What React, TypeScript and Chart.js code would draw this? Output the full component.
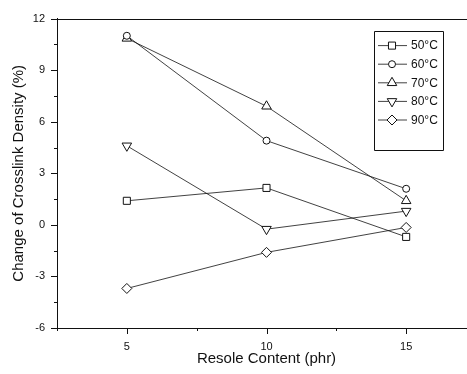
import React, { useEffect, useRef } from 'react';
import { Chart, registerables } from 'chart.js';
import { drawPoint } from 'chart.js/helpers';

Chart.register(...registerables);

const resoleContent = [5, 10, 15];
const seriesLabels = ['50°C', '60°C', '70°C', '80°C', '90°C'];
const s50 = [1.4, 2.15, -0.7];
const s60 = [11.0, 4.9, 2.1];
const s70 = [10.85, 6.9, 1.4];
const s80 = [4.6, -0.25, 0.8];
const s90 = [-3.7, -1.6, -0.15];
const seriesValues = [s50, s60, s70, s80, s90];

const pointStyles = ['rect', 'circle', 'triangle', 'triangle', 'rectRot'];
const pointRotations = [0, 0, 0, 180, 0];
const pointRadii = [5, 3.5, 5.5, 5.5, 5];

const yMin = -6;
const yMax = 12;
const yStep = 1.5;
const yMajor = 3;
const xMin = 2.5;
const xMax = 17.5;
const xStep = 2.5;
const xMajor = 5;

const FONT = "'Liberation Sans', Arial, Helvetica, sans-serif";
const INK = '#111';

const framePlugin = {
  id: 'frame',
  afterDraw(chart: any) {
    const { ctx, chartArea, scales } = chart;
    const { left, right, top, bottom } = chartArea;
    ctx.save();
    ctx.strokeStyle = INK;
    ctx.lineWidth = 1;
    ctx.beginPath();
    ctx.moveTo(left, Math.round(top) + 0.5);
    ctx.lineTo(right, Math.round(top) + 0.5);
    const ys = scales.y;
    ys.ticks.forEach((t: any) => {
      const p = Math.round(ys.getPixelForValue(t.value)) + 0.5;
      const major = Math.abs(t.value % yMajor) < 1e-6;
      ctx.moveTo(left - (major ? 6 : 3), p);
      ctx.lineTo(left, p);
    });
    const xs = scales.x;
    xs.ticks.forEach((t: any) => {
      const p = Math.round(xs.getPixelForValue(t.value)) + 0.5;
      const major = Math.abs(t.value % xMajor) < 1e-6;
      ctx.moveTo(p, bottom);
      ctx.lineTo(p, bottom + (major ? 6 : 3));
    });
    ctx.stroke();

    // legend box
    const bx = right - 102;
    const by = top + 12;
    const bw = 69;
    const bh = 119;
    ctx.beginPath();
    ctx.rect(Math.round(bx) + 0.5, Math.round(by) + 0.5, bw, bh);
    ctx.stroke();
    chart.data.datasets.forEach((ds: any, i: number) => {
      const cy = by + 15 + i * 18.6;
      ctx.beginPath();
      ctx.strokeStyle = INK;
      ctx.lineWidth = 0.8;
      ctx.moveTo(bx + 4, cy);
      ctx.lineTo(bx + 33, cy);
      ctx.stroke();
      ctx.fillStyle = '#fff';
      ctx.strokeStyle = INK;
      ctx.lineWidth = 1;
      drawPoint(ctx, {
        pointStyle: ds.pointStyle,
        rotation: ds.pointRotation,
        radius: ds.pointRadius,
        borderWidth: 1,
      } as any, bx + 18, cy);
      ctx.fillStyle = INK;
      ctx.font = `12px ${FONT}`;
      ctx.textAlign = 'left';
      ctx.textBaseline = 'middle';
      ctx.fillText(ds.label, bx + 37, cy + 0.5);
    });
    ctx.restore();
  },
};

export default function App() {
  const ref = useRef<HTMLCanvasElement | null>(null);
  useEffect(() => {
    if (!ref.current) return;
    const chart = new Chart(ref.current, {
      type: 'line',
      data: {
        datasets: seriesValues.map((vals, i) => ({
          label: seriesLabels[i],
          data: resoleContent.map((x, j) => ({ x, y: vals[j] })),
          borderColor: INK,
          borderWidth: 0.8,
          backgroundColor: '#fff',
          pointStyle: pointStyles[i] as any,
          pointRotation: pointRotations[i],
          pointRadius: pointRadii[i],
          pointBorderWidth: 1,
          pointBorderColor: INK,
          pointBackgroundColor: '#fff',
          tension: 0,
        })),
      },
      options: {
        responsive: false,
        animation: false,
        layout: { padding: { left: 0, top: 17, right: 14, bottom: 0 } },
        plugins: { legend: { display: false }, tooltip: { enabled: false } },
        scales: {
          x: {
            type: 'linear',
            min: xMin,
            max: xMax,
            afterFit: (s: any) => { s.height = 46; },
            grid: { display: false, drawTicks: false },
            border: { display: true, color: INK, width: 1 },
            ticks: {
              stepSize: xStep,
              padding: 12,
              color: INK,
              font: { family: FONT, size: 11 },
              callback: (v: any) => (Math.abs(v % xMajor) < 1e-6 ? String(v) : ''),
              maxRotation: 0,
              autoSkip: false,
            },
            title: {
              display: true,
              text: 'Resole Content (phr)',
              color: INK,
              font: { family: FONT, size: 15 },
              padding: { top: 0, bottom: 6 },
            },
          },
          y: {
            type: 'linear',
            min: yMin,
            max: yMax,
            afterFit: (s: any) => { s.width = 57; },
            grid: { display: false, drawTicks: false },
            border: { display: true, color: INK, width: 1 },
            ticks: {
              stepSize: yStep,
              padding: 12,
              color: INK,
              font: { family: FONT, size: 11 },
              callback: (v: any) => (Math.abs(v % yMajor) < 1e-6 ? String(v) : ''),
              autoSkip: false,
            },
            title: {
              display: true,
              text: 'Change of Crosslink Density (%)',
              color: INK,
              font: { family: FONT, size: 15 },
              padding: { top: 10, bottom: 0 },
            },
          },
        },
      },
      plugins: [framePlugin],
    });
    return () => chart.destroy();
  }, []);
  return (
    <div style={{ position: 'absolute', left: 0, top: 0, width: 467, height: 374, overflow: 'hidden', background: '#fff' }}>
      <canvas ref={ref} width={490} height={374} style={{ display: 'block', width: 490, height: 374 }} />
    </div>
  );
}
